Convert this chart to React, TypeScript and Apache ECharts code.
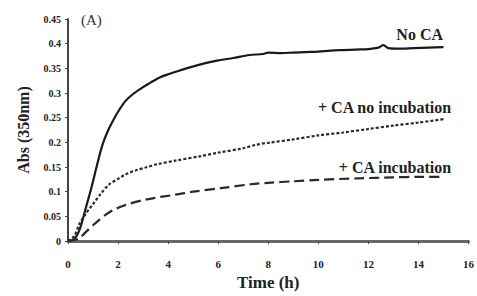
import React, { useEffect, useRef } from "react";
import * as echarts from "echarts";

const noCaT = [0, 0.25, 0.47, 0.7, 0.94, 1.15, 1.37, 1.6, 1.84, 2.05, 2.3, 2.6, 2.94, 3.3, 3.6, 4.0, 4.3, 4.8, 5.45, 6.0, 6.6, 7.25, 7.8, 8.0, 8.5, 9.0, 9.5, 10.0, 10.5, 11.0, 11.5, 12.0, 12.4, 12.6, 12.8, 13.2, 13.8, 14.4, 15.0];
const noCaV = [0, 0.004, 0.024, 0.065, 0.109, 0.152, 0.194, 0.224, 0.248, 0.266, 0.284, 0.298, 0.31, 0.321, 0.33, 0.338, 0.343, 0.351, 0.36, 0.366, 0.371, 0.377, 0.379, 0.382, 0.381, 0.382, 0.383, 0.384, 0.386, 0.387, 0.388, 0.389, 0.392, 0.397, 0.391, 0.39, 0.391, 0.392, 0.393];

const noIncT = [0, 0.25, 0.47, 0.75, 1.0, 1.3, 1.65, 2.0, 2.3, 2.7, 3.1, 3.6, 4.3, 5.3, 6.0, 7.0, 7.5, 8.0, 9.0, 10.0, 11.0, 12.0, 13.0, 14.0, 15.0];
const noIncV = [0, 0.01, 0.036, 0.058, 0.075, 0.095, 0.115, 0.126, 0.135, 0.143, 0.149, 0.156, 0.163, 0.172, 0.179, 0.188, 0.195, 0.199, 0.206, 0.214, 0.22, 0.227, 0.234, 0.24, 0.247];

const incT = [0, 0.4, 0.75, 1.0, 1.25, 1.5, 1.77, 2.3, 3.1, 4.3, 5.0, 6.1, 7.3, 8.0, 9.0, 10.0, 11.6, 13.0, 14.0, 14.9];
const incV = [0, 0.004, 0.02, 0.032, 0.043, 0.053, 0.062, 0.073, 0.084, 0.094, 0.1, 0.107, 0.115, 0.118, 0.121, 0.124, 0.127, 0.129, 0.13, 0.13];

const xTicks = { min: 0, max: 16, interval: 2 };
const yTicks = { min: 0, max: 0.45, interval: 0.05 };

const seriesNames = ["No CA", "+ CA no incubation", "+ CA incubation"];
const panelLabel = "(A)";

const pairs = (t: number[], v: number[]) => t.map((x, i) => [x, v[i]]);

export default function App() {
  const ref = useRef<HTMLDivElement>(null);
  useEffect(() => {
    if (!ref.current) return;
    const chart = echarts.init(ref.current, null, { renderer: "svg" });
    const font = "Liberation Serif";
    chart.setOption({
      animation: false,
      backgroundColor: "#ffffff",
      grid: { left: 68, right: 8, top: 19, bottom: 51 },
      xAxis: {
        type: "value",
        min: xTicks.min,
        max: xTicks.max,
        interval: xTicks.interval,
        name: "Time (h)",
        nameLocation: "middle",
        nameGap: 33,
        nameTextStyle: { fontFamily: font, fontSize: 17, fontWeight: "bold", color: "#222" },
        axisLine: { lineStyle: { color: "#666", width: 3 } },
        axisTick: { show: true, inside: false, length: 3, lineStyle: { color: "#444", width: 1 } },
        axisLabel: { fontFamily: font, fontSize: 11, fontWeight: "bold", color: "#222", margin: 17 },
        splitLine: { show: false },
      },
      yAxis: {
        type: "value",
        min: yTicks.min,
        max: yTicks.max,
        interval: yTicks.interval,
        name: "Abs (350nm)",
        nameLocation: "middle",
        nameGap: 37,
        nameRotate: 90,
        nameTextStyle: { fontFamily: font, fontSize: 16, fontWeight: "bold", color: "#222" },
        axisLine: { lineStyle: { color: "#444", width: 2 } },
        axisTick: { show: true, inside: false, length: 3, lineStyle: { color: "#444", width: 1 } },
        axisLabel: { fontFamily: font, fontSize: 10, fontWeight: "bold", color: "#222", margin: 7 },
        splitLine: { show: false },
      },
      series: [
        {
          name: seriesNames[0],
          type: "line",
          data: pairs(noCaT, noCaV),
          showSymbol: false,
          smooth: 0.3,
          lineStyle: { color: "#1a1a1a", width: 2.2, type: "solid" },
        },
        {
          name: seriesNames[1],
          type: "line",
          data: pairs(noIncT, noIncV),
          showSymbol: false,
          smooth: 0.3,
          lineStyle: { color: "#2a2a2a", width: 2.2, type: [3, 2] },
        },
        {
          name: seriesNames[2],
          type: "line",
          data: pairs(incT, incV),
          showSymbol: false,
          smooth: 0.3,
          lineStyle: { color: "#2a2a2a", width: 2.2, type: [10, 5] },
        },
      ],
      graphic: [
        { type: "text", left: 81, top: 12, style: { text: panelLabel, fontFamily: font, fontSize: 15, fill: "#333" } },
        { type: "text", right: 34, top: 26, style: { text: seriesNames[0], fontFamily: font, fontSize: 16, fontWeight: "bold", fill: "#222" } },
        { type: "text", right: 25, top: 99, style: { text: seriesNames[1], fontFamily: font, fontSize: 16, fontWeight: "bold", fill: "#222" } },
        { type: "text", right: 25, top: 159, style: { text: seriesNames[2], fontFamily: font, fontSize: 16, fontWeight: "bold", fill: "#222" } },
      ],
    });
    return () => chart.dispose();
  }, []);
  return <div ref={ref} style={{ width: 477, height: 296, position: "absolute", left: 0, top: 0 }} />;
}
